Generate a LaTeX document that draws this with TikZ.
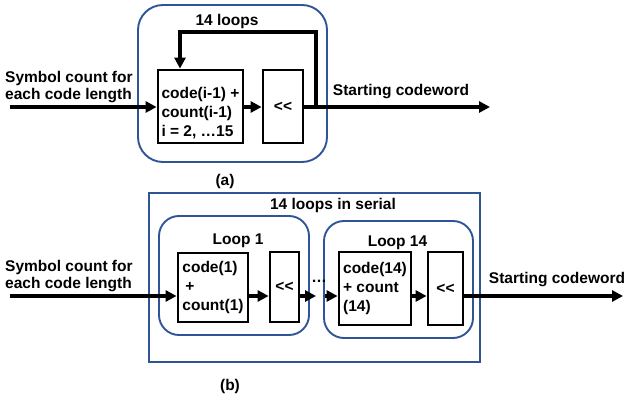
\documentclass[tikz,border=0pt]{standalone}
\usepackage{fontspec}
\setmainfont{Liberation Sans}
\usetikzlibrary{arrows.meta}
\definecolor{frameblue}{RGB}{47,85,151}
\newcommand{\shl}{{<}{<}}
\begin{document}
\begin{tikzpicture}[x=1pt,y=-1pt,
  every node/.style={font=\fontsize{15.5}{17.5}\selectfont\bfseries, inner sep=0pt},
  boxfont/.style={font=\fontsize{15.5}{19}\selectfont\bfseries},
  blk/.style={draw=black, line width=2.8pt, align=left},
  bluebox/.style={draw=frameblue, line width=1.9pt},
  arr/.style={line width=3.4pt, -{Triangle[length=11pt,width=11pt]}},
  lbl/.style={align=left}]
\useasboundingbox (0,0) rectangle (626,395);

% ---------- (a) ----------
\draw[bluebox, rounded corners=25] (138,5) rectangle (327,162);
\node (aloops) at (227,21) {14 loops};
\node[blk, boxfont, minimum width=85, minimum height=73] (a1) at (200.5,106.5) {};
\node[boxfont, align=left] (a1t) at (200.5,113) {code(i-1) +\\count(i-1)\\i = 2, \ldots15};
\node[blk, minimum width=40, minimum height=73] (a2) at (283,106.5) {\shl};
\node[lbl, anchor=west] (ain) at (5,87) {Symbol count for\\each code length};
\node (aout) at (401,92) {Starting codeword};
\node (acap) at (225,181) {(a)};
\coordinate (astart) at (10,107);
\coordinate (aend) at (490,107);
\coordinate (afb) at (316,107);
\draw[arr] (astart) -- (a1.west |- astart);
\draw[arr] (a1.east |- astart) -- (a2.west |- astart);
\draw[arr] (a2.east |- astart) -- (aend);
\draw[arr, line width=3.4pt] (afb) -- (316,32) -- (180,32) -- (a1.north -| 180,0);

% ---------- (b) ----------
\draw[bluebox, line width=1.7pt] (149,193) rectangle (480,362);
\node (bser) at (333,205) {14 loops in serial};
\draw[bluebox, rounded corners=20] (159,216) rectangle (309,335);
\draw[bluebox, rounded corners=20] (324,221) rectangle (473,338);
\node (bl1) at (238,241) {Loop 1};
\node (bl14) at (397.5,243) {Loop 14};
\node[blk, boxfont, minimum width=70, minimum height=69] (c1) at (213,287.5) {code(1)\\\hspace{3pt}+\\count(1)};
\node[blk, minimum width=29, minimum height=70] (s1) at (284.5,287) {\shl};
\node[blk, boxfont, minimum width=72, minimum height=73] (c14) at (375,288.5) {code(14)\\+ count\\(14)};
\node[blk, minimum width=35, minimum height=73] (s14) at (445.5,288.5) {\shl};
\node[lbl, anchor=west] (bin) at (5,276) {Symbol count for\\each code length};
\node (bout) at (557,280) {Starting codeword};
\node (bdots) at (319,281) {\ldots};
\node (bcap) at (230,386) {(b)};
\coordinate (bstart) at (10,296);
\coordinate (bend) at (623,296);
\coordinate (bm1) at (316,296);
\coordinate (bm2) at (325,296);
\draw[arr] (bstart) -- (c1.west |- bstart);
\draw[arr] (c1.east |- bstart) -- (s1.west |- bstart);
\draw[arr] (s1.east |- bstart) -- (bm1);
\draw[arr] (bm2) -- (c14.west |- bstart);
\draw[arr] (c14.east |- bstart) -- (s14.west |- bstart);
\draw[arr] (s14.east |- bstart) -- (bend);
\end{tikzpicture}
\end{document}
